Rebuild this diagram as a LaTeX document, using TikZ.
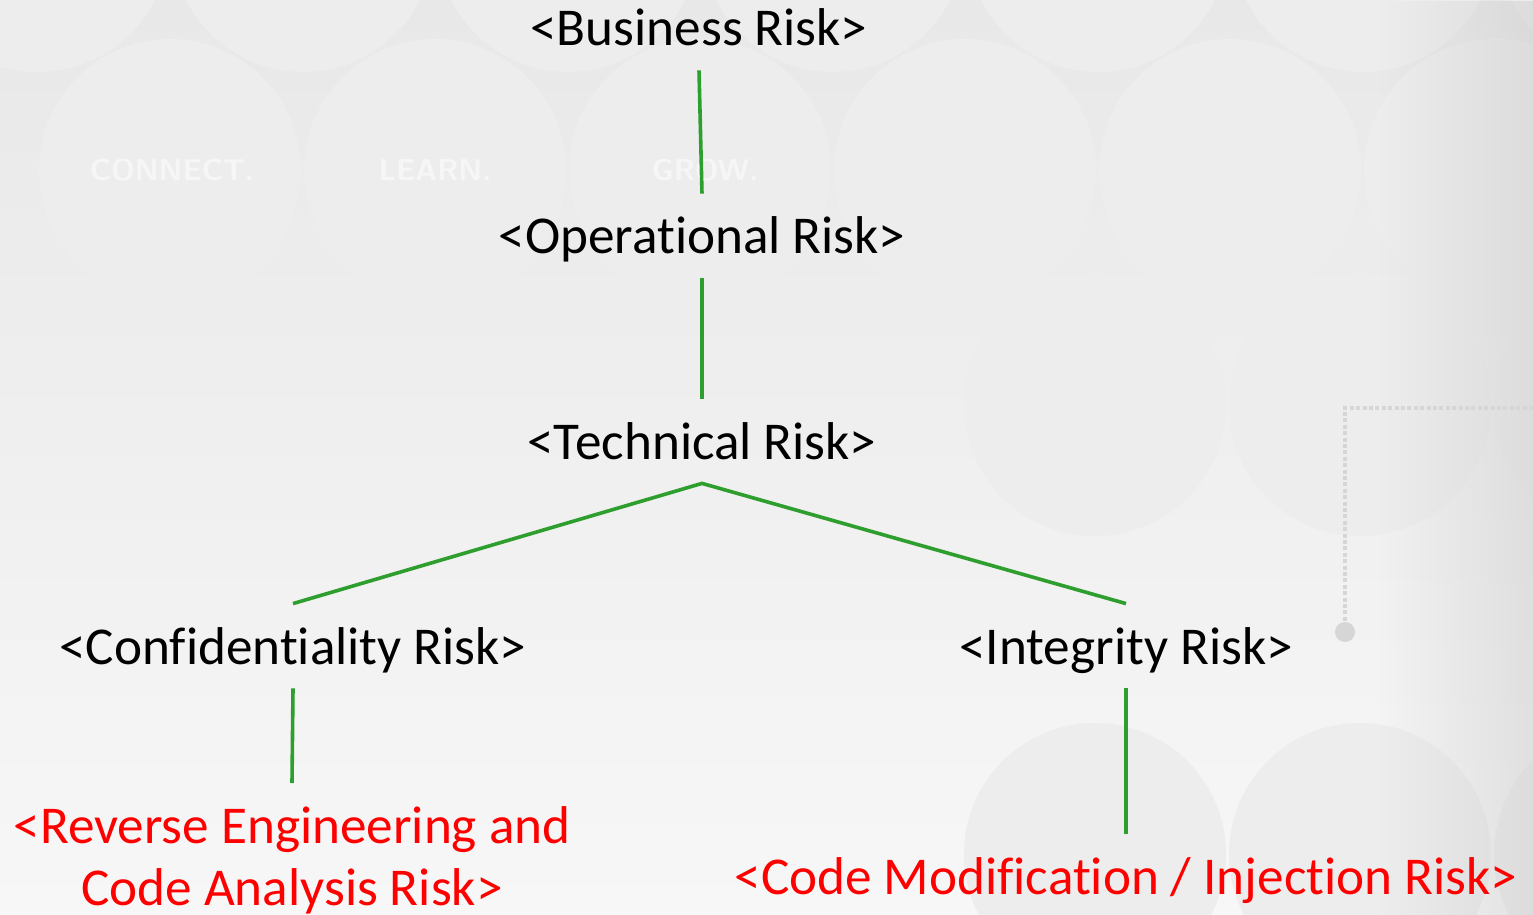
\documentclass[tikz,border=0pt]{standalone}
\usepackage{fontspec}
\setmainfont{Carlito}[RawFeature={-liga;-dlig;-clig;-calt}]
\usetikzlibrary{fadings}
\definecolor{riskgreen}{RGB}{46,158,46}
\definecolor{riskred}{RGB}{255,0,0}
\definecolor{bgpaper}{RGB}{247,247,247}
\definecolor{bgtop}{RGB}{232,232,232}
\definecolor{bgcircle}{RGB}{237,237,237}
\definecolor{bgdots}{RGB}{214,214,214}
\newcommand{\nolig}{\kern0pt }
\begin{document}
\begin{tikzpicture}[x=0.5pt,y=-0.5pt,
    risk/.style={font=\fontsize{26.6}{31}\selectfont, inner xsep=0pt, inner ysep=0pt, text height=30pt, text depth=12pt, anchor=base},
    riskalt/.style={risk, text=riskred},
    link/.style={draw=riskgreen, line width=1.8pt},
    watermark/.style={font=\sffamily\bfseries\fontsize{15}{15}\selectfont, text=white, text opacity=0.55}]
        \useasboundingbox (0,0) rectangle (1533,915);
        \shade[top color=bgtop, middle color=bgpaper, bottom color=bgpaper] (0,0) rectangle (1533,915);

        \foreach \x in {38,303,...,1628}{
            \fill[bgcircle] (\x,-59) circle[radius=65.5pt];
        }
        \foreach \x in {170,435,...,1495}{
            \fill[bgcircle] (\x,170) circle[radius=65.5pt];
        }
        \foreach \x in {1095,1360,1625}
        {
            \fill[bgcircle] (\x,405) circle[radius=65.5pt];
            \fill[bgcircle] (\x,854) circle[radius=65.5pt];
        }
        \fill[gray!40, path fading=west, opacity=0.5] (1380,0) rectangle (1533,915);

        \node[watermark] (connect) at (172,170) {CONNECT.};
        \node[watermark] (learn) at (435,170) {LEARN.};
        \node[watermark] (grow) at (705,170) {GROW.};

        \draw[bgdots, line width=2pt, dash pattern=on 2pt off 1.2pt] (1533,408) -- (1345,408) -- (1345,622);
        \fill[bgdots] (1345,632) circle[radius=5pt];

        \node[risk] (business) at (699,46) {<Business Risk>};
        \node[risk] (operational) at (702,254) {<Operat\nolig ional Risk>};
        \node[risk] (technical) at (702,459) {<Technical Risk>};
        \node[risk] (confidentiality) at (293,664) {<Conf\nolig ident\nolig iality Risk>};
        \node[risk] (integrity) at (1126,664) {<Integrity Risk>};
        \node[riskalt, align=center, text height=, text depth=, anchor=north] (reverse) at (292,783) {\rule{0pt}{30pt}<Reverse Engineering and\\Code Analysis Risk>};
        \node[riskalt] (modification) at (1126,894) {<Code Modif\nolig icat\nolig ion / Inject\nolig ion Risk>};

        \draw[link] (business.south) -- (operational.north);
        \draw[link] (operational.south) -- (technical.north);
        \draw[link] (confidentiality.north) -- (technical.south) -- (integrity.north);
        \draw[link] (confidentiality.south) -- (reverse.north);
        \draw[link] (integrity.south) -- (modification.north);
    \end{tikzpicture}
\end{document}
